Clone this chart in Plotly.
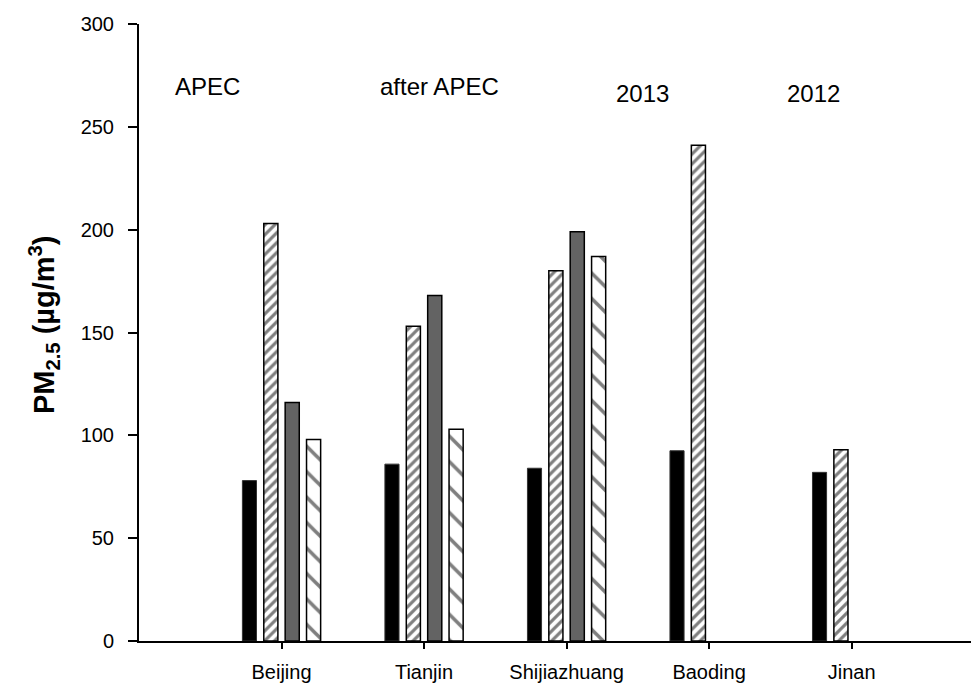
import plotly.graph_objects as go

cities = ["Beijing", "Tianjin", "Shijiazhuang", "Baoding", "Jinan"]
apec = [78, 86, 84, 92.5, 82]
after_apec = [203, 153, 180, 241, 93]
y2013 = [116, 168, 199, None, None]
y2012 = [98, 103, 187, None, None]
series_labels = ["APEC", "after APEC", "2013", "2012"]
yticks = [0, 50, 100, 150, 200, 250, 300]

FONT = "Liberation Sans, Arial, sans-serif"

fig = go.Figure()
fig.add_trace(go.Bar(x=cities, y=apec, name=series_labels[0],
                     marker=dict(color="black", line=dict(color="#333333", width=1))))
fig.add_trace(go.Bar(x=cities, y=after_apec, name=series_labels[1],
                     marker=dict(color="white", line=dict(color="black", width=1.5),
                                 pattern=dict(shape="/", fgcolor="black", bgcolor="white",
                                              size=7, solidity=0.45))))
fig.add_trace(go.Bar(x=cities, y=y2013, name=series_labels[2],
                     marker=dict(color="#636363", line=dict(color="black", width=1.5))))
fig.add_trace(go.Bar(x=cities, y=y2012, name=series_labels[3],
                     marker=dict(color="white", line=dict(color="black", width=1.5),
                                 pattern=dict(shape="\\", fgcolor="black", bgcolor="white",
                                              size=18, solidity=0.2))))

label_pos = [(-0.52, 269.5), (1.11, 269.5), (2.53, 266), (3.73, 266)]
for txt, (lx, ly) in zip(series_labels, label_pos):
    fig.add_annotation(x=lx, y=ly, xref="x", yref="y", text=txt, showarrow=False,
                       font=dict(family=FONT, size=24, color="black"))

# y-axis title
fig.add_annotation(x=-95 / 848, y=0.512, xref="paper", yref="paper",
                   text="<b>PM<sub>2.5</sub> (µg/m<sup>3</sup>)</b>", textangle=-90,
                   showarrow=False, xanchor="center", yanchor="middle",
                   font=dict(family=FONT, size=29, color="black"))

fig.update_layout(
    width=979, height=689,
    margin=dict(l=131, r=0, t=16, b=56),
    paper_bgcolor="white", plot_bgcolor="white",
    barmode="group", bargap=0.4, bargroupgap=0.34,
    showlegend=False,
    font=dict(family=FONT, size=20, color="black"),
)
fig.update_xaxes(type="category", range=[-1.0, 4.95], showline=True, linecolor="black",
                 linewidth=2, ticks="outside", ticklen=6, tickwidth=1.5, tickcolor="black",
                 ticklabelstandoff=6,
                 showgrid=False, zeroline=False, tickfont=dict(family=FONT, size=20))
fig.update_yaxes(range=[0, 300], tickvals=yticks, showline=True, linecolor="black",
                 linewidth=2, ticks="outside", ticklen=9, tickwidth=1.5, tickcolor="black",
                 ticklabelstandoff=10,
                 showgrid=False, zeroline=False, tickfont=dict(family=FONT, size=20))

fig.write_html("out.html")
